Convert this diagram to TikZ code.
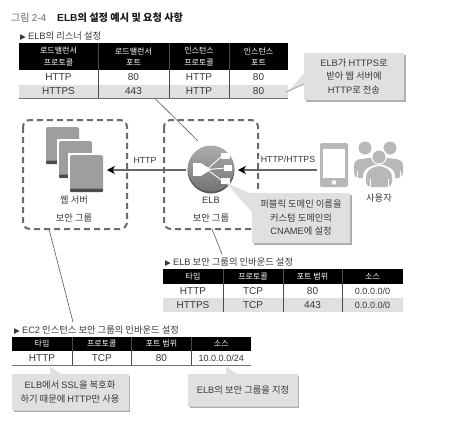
\documentclass[tikz,border=0pt]{standalone}
\usepackage{fontspec}
\setmainfont{Noto Sans CJK KR}
\newfontfamily\lat{Liberation Sans}
\newfontfamily\dv{DejaVu Sans}
\usetikzlibrary{arrows.meta}
\definecolor{txt}{gray}{0.22}
\definecolor{rowg}{gray}{0.88}
\definecolor{callg}{gray}{0.88}
\definecolor{shad}{gray}{0.68}
\definecolor{dashc}{gray}{0.42}
\definecolor{srv}{gray}{0.62}
\definecolor{icon}{gray}{0.72}
\tikzset{
 x=1pt,y=-1pt,
 hdr/.style={text=white,font=\fontsize{8}{11.5}\selectfont,align=center,inner sep=0pt},
 body/.style={text=txt,font=\fontsize{10}{11}\lat,inner sep=0pt},
 ip/.style={body,font=\fontsize{9}{11}\lat},
 note/.style={text=txt,font=\fontsize{9.3}{13.5}\selectfont,align=center,inner sep=0pt},
 sub/.style={text=txt,font=\fontsize{9.3}{11}\selectfont,anchor=west,inner sep=0pt},
 sep/.style={draw=black!70,line width=.7pt},
 base/.style={draw=black!55,line width=1pt},
 sg/.style={draw=dashc,line width=2pt,dash pattern=on 6pt off 4pt,rounded corners=7pt},
 lead/.style={draw=black!65,line width=.6pt},
 flow/.style={draw=black!60,line width=1.1pt,-{Stealth[length=8pt,width=8pt,inset=2.5pt,black]}},
 callshape/.style={fill=callg},
 shadowshape/.style={fill=shad},
}
\newcommand{\hc}[6]{\fill[black] (#2,#3) rectangle (#4,#5) node[midway,hdr] (#1) {#6};}
\newcommand{\bc}[8][body]{\fill[#7] (#3,#4) rectangle (#5,#6) node[midway,#1] (#2) {#8};}
\newcommand{\tri}{{\dv\fontsize{7.5}{8}\selectfont ▶}}
\begin{document}
\begin{tikzpicture}
\useasboundingbox (0,0) rectangle (453,426);
\fill[white] (0,0) rectangle (453,426);

\node[anchor=west,inner sep=0pt,text=black!60,font=\fontsize{10}{11}\selectfont] (fig) at (11,18) {그림 {\lat 2-4}};
\node[anchor=west,inner sep=0pt,text=black!90,font=\fontsize{10.2}{11}\bfseries] (figt) at (57,18) {{\lat\bfseries ELB}의 설정 예시 및 요청 사항};

\node[sub] (t1) at (20,36) {\tri\ {\lat ELB}의 리스너 설정};
\hc{a1}{19}{43}{98}{70}{로드밸런서\\프로토콜}
\hc{a2}{98}{43}{169}{70}{로드밸런서\\포트}
\hc{a3}{169}{43}{229}{70}{인스턴스\\프로토콜}
\hc{a4}{229}{43}{288}{70}{인스턴스\\포트}
\bc{b1}{19}{70}{98}{84}{white}{HTTP}
\bc{b2}{98}{70}{169}{84}{white}{80}
\bc{b3}{169}{70}{229}{84}{white}{HTTP}
\bc{b4}{229}{70}{288}{84}{white}{80}
\bc{c1}{19}{84.5}{98}{98}{rowg}{HTTPS}
\bc{c2}{98}{84.5}{169}{98}{rowg}{443}
\bc{c3}{169}{84.5}{229}{98}{rowg}{HTTP}
\bc{c4}{229}{84.5}{288}{98}{rowg}{80}
\foreach \x in {98,169,229}{\draw[sep] (\x,43) -- (\x,98);}
\draw[base] (19,98.5) -- (288,98.5);

\node[sub] (t2) at (165,262) {\tri\ {\lat ELB} 보안 그룹의 인바운드 설정};
\hc{d1}{163}{269}{223}{284}{타입}
\hc{d2}{223}{269}{283}{284}{프로토콜}
\hc{d3}{283}{269}{342}{284}{포트 범위}
\hc{d4}{342}{269}{403}{284}{소스}
\bc{e1}{163}{284}{223}{298}{white}{HTTP}
\bc{e2}{223}{284}{283}{298}{white}{TCP}
\bc{e3}{283}{284}{342}{298}{white}{80}
\bc[ip]{e4}{342}{284}{403}{298}{white}{0.0.0.0/0}
\bc{f1}{163}{298}{223}{312}{rowg}{HTTPS}
\bc{f2}{223}{298}{283}{312}{rowg}{TCP}
\bc{f3}{283}{298}{342}{312}{rowg}{443}
\bc[ip]{f4}{342}{298}{403}{312}{rowg}{0.0.0.0/0}
\foreach \x in {223,283,342}{\draw[sep] (\x,269) -- (\x,312);}

\node[sub] (t3) at (14,330) {\tri\ {\lat EC2} 인스턴스 보안 그룹의 인바운드 설정};
\hc{g1}{12}{336.5}{72}{351}{타입}
\hc{g2}{72}{336.5}{131.5}{351}{프로토콜}
\hc{g3}{131.5}{336.5}{191.5}{351}{포트 범위}
\hc{g4}{191.5}{336.5}{251}{351}{소스}
\bc{h1}{12}{351}{72}{365}{white}{HTTP}
\bc{h2}{72}{351}{131.5}{365}{white}{TCP}
\bc{h3}{131.5}{351}{191.5}{365}{white}{80}
\bc[ip]{h4}{191.5}{351}{251}{365}{white}{10.0.0.0/24}
\foreach \x in {72,131.5,191.5}{\draw[sep] (\x,336.5) -- (\x,365);}
\draw[base] (12,365.5) -- (251,365.5);

\draw[sg] (23,120) rectangle (127,229);
\draw[sg] (164,120) rectangle (258,229);
\coordinate (websg) at (49,229);
\coordinate (elbsg) at (212,229);
\coordinate (tabtop1) at (155,98.5);
\coordinate (tabtop2) at (222,254);
\coordinate (tabtop3) at (73,322);
\coordinate (elbedge) at (198,141);
\draw[lead] (tabtop1) -- (elbedge);
\draw[lead] (websg) -- (tabtop3);
\draw[lead] (elbsg) -- (tabtop2);

\foreach \nm/\x/\y in {s1/46/127,s2/59/141,s3/70/155}{
  \fill[white] (\x-2,\y-2) rectangle (\x+35,\y+39);
  \fill[srv,rounded corners=1.5pt] (\x,\y) rectangle (\x+33,\y+36);
  \fill[black!70,rounded corners=1pt] (\x,\y+33.5) rectangle (\x+33,\y+37);
  \coordinate (\nm) at (\x+16.5,\y+18);
}
\node[note] (weblab) at (74,200) {웹 서버};
\node[note] (websec) at (74,218) {보안 그룹};

\fill[black!65] (211,170) circle (23.5);
\shade[top color=black!32,bottom color=black!55] (211,168.5) circle (23);
\coordinate (elbc) at (211,169);
\begin{scope}[white,line width=.9pt]
 \fill (193,163) rectangle (201,176);
 \fill (201,163) -- (211,169.5) -- (201,176) -- cycle;
 \draw (207,169.5) -- (222,156);
 \draw (207,169.5) -- (226,168);
 \draw (207,169.5) -- (222,180.5);
 \fill (220.5,153) rectangle (230,158.5);
 \fill (224,165) rectangle (232,171);
 \fill (220.5,178) rectangle (230,183.5);
\end{scope}
\node[note] (elblab) at (211,200) {{\lat ELB}};
\node[note] (elbsec) at (211,218) {보안 그룹};

\fill[icon,rounded corners=2pt] (320,143) rectangle (348,187);
\fill[white] (323,149) rectangle (345,178);
\fill[white] (334,182.5) circle (2.3);
\coordinate (phone) at (317,170);
\coordinate (elbin) at (238,170);
\coordinate (elbout) at (186,170);
\coordinate (srvin) at (107,170);
\draw[flow] (phone) -- (elbin);
\draw[flow] (elbout) -- (srvin);
\node[body,font=\fontsize{8.8}{10}\lat] (lb1) at (288,159) {HTTP/HTTPS};
\node[body,font=\fontsize{8.8}{10}\lat] (lb2) at (145,160) {HTTP};

\begin{scope}[icon]
 \fill (365,148) circle (6.5);
 \fill (390,148) circle (6.5);
 \fill[rounded corners=5pt] (354,178) -- (354,160) -- (376,157) -- (378,157) -- (403,160) -- (403,178) -- cycle;
\end{scope}
\fill[white] (379,156.5) circle (8);
\fill[white,rounded corners=6pt] (363,188) -- (363,170) -- (379,163) -- (395,170) -- (395,188) -- cycle;
\fill[icon] (379,157) circle (6.5);
\fill[icon,rounded corners=5pt] (366,187) -- (366,172) -- (375,166) -- (383,166) -- (392,172) -- (392,187) -- cycle;
\draw[white,line width=.6pt] (357,171) -- (357,178) (400,171) -- (400,178) (370,179) -- (370,187) (388,179) -- (388,187);
\node[note] (userlab) at (379,198) {사용자};

\fill[shadowshape] (306,55) rectangle (405.5,101.5);
\fill[callshape] (304,53) -- (404,53) -- (404,100) -- (304,100) -- (304,84) -- (288,92) -- (304,73) -- cycle;
\draw[shad,line width=1pt] (304,84) -- (286,92);
\node[note] (n1) at (354,76.5) {{\lat ELB}가 {\lat HTTPS}로\\받아 웹 서버에\\{\lat HTTP}로 전송};

\fill[shadowshape] (254,195) rectangle (352,245);
\fill[callshape] (252,193) -- (350,193) -- (350,243) -- (252,243) -- (252,212) -- (226,183) -- (250,193) -- cycle;
\node[note] (n2) at (301,218) {퍼블릭 도메인 이름을\\커스텀 도메인의\\{\lat CNAME}에 설정};

\fill[shadowshape] (14,376) rectangle (130,412);
\fill[callshape] (12,374) -- (50,374) -- (50,367) -- (62,374) -- (129,374) -- (129,410.5) -- (12,410.5) -- cycle;
\node[note] (n3) at (70,392) {{\lat ELB}에서 {\lat SSL}을 복호화\\하기 때문에 {\lat HTTP}만 사용};

\fill[shadowshape] (190,376) rectangle (299,408);
\fill[callshape] (188,374) -- (226,374) -- (226,367) -- (238,374) -- (298,374) -- (298,406.5) -- (188,406.5) -- cycle;
\node[note] (n4) at (243,390) {{\lat ELB}의 보안 그룹을 지정};
\end{tikzpicture}
\end{document}
